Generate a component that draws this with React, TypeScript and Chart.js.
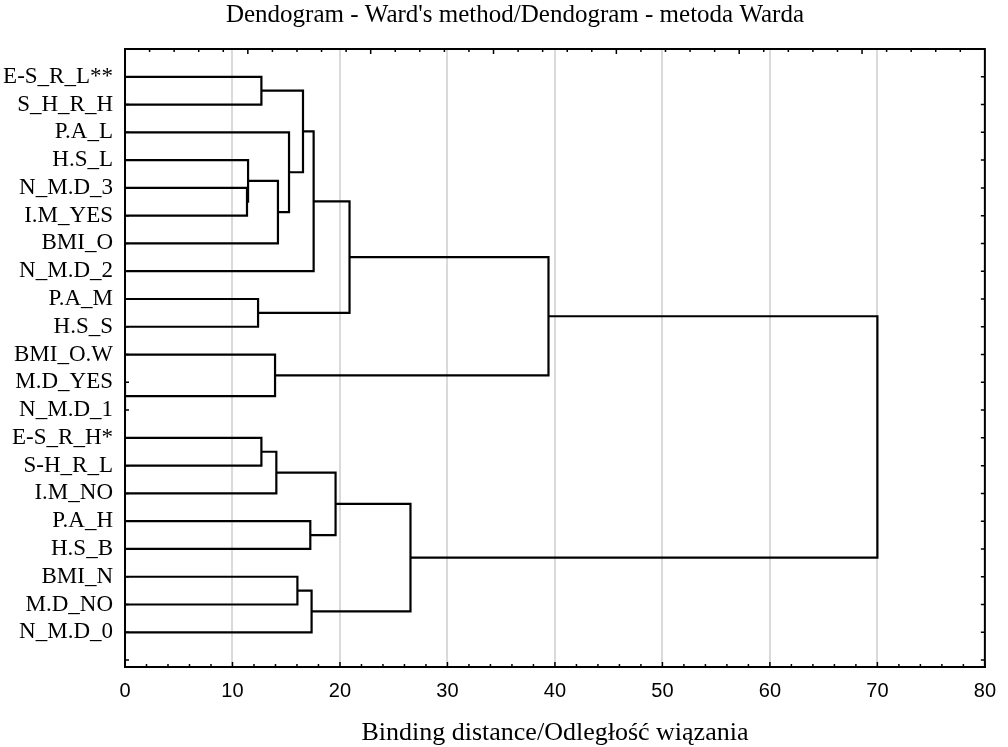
import { useEffect, useRef } from "react";
import { Chart, registerables } from "chart.js";

Chart.register(...registerables);

// Leaves of the dendrogram, top to bottom
const leafLabels = [
  "E-S_R_L**", "S_H_R_H", "P.A_L", "H.S_L", "N_M.D_3", "I.M_YES", "BMI_O",
  "N_M.D_2", "P.A_M", "H.S_S", "BMI_O.W", "M.D_YES", "N_M.D_1", "E-S_R_H*",
  "S-H_R_L", "I.M_NO", "P.A_H", "H.S_B", "BMI_N", "M.D_NO", "N_M.D_0",
];

// Merge k joins clusters mergeLeft[k] and mergeRight[k] at mergeDistance[k].
// Ids below leafLabels.length are leaves; id leafLabels.length + k is merge k.
const mergeLeft = [11, 4, 3, 8, 0, 13, 10, 23, 26, 18, 2, 25, 16, 30, 7, 29, 35, 36, 37, 39];
const mergeRight = [12, 5, 22, 9, 1, 14, 21, 6, 15, 19, 28, 31, 17, 20, 32, 33, 24, 34, 27, 38];
const mergeDistance = [
  0.0, 11.35, 11.45, 12.38, 12.69, 12.69, 13.96, 14.23, 14.08, 16.04,
  15.26, 16.56, 17.24, 17.36, 17.55, 19.59, 20.89, 26.56, 39.4, 70.0,
];

const xTickValues = [0, 10, 20, 30, 40, 50, 60, 70, 80];

const titleText = "Dendogram - Ward's method/Dendogram - metoda Warda";
const xTitleText = "Binding distance/Odległość wiązania";

const SERIF = "'Liberation Serif', 'Times New Roman', serif";
const SANS = "'Liberation Sans', Arial, sans-serif";

type Pt = { x: number; y: number };

function buildLinks(): Pt[][] {
  const n = leafLabels.length;
  const height: number[] = [];
  const pos: number[] = [];
  for (let i = 0; i < n; i++) {
    height[i] = 0;
    pos[i] = i + 1;
  }
  const links: Pt[][] = [];
  for (let k = 0; k < mergeDistance.length; k++) {
    const a = mergeLeft[k];
    const b = mergeRight[k];
    const d = mergeDistance[k];
    links.push([
      { x: height[a], y: pos[a] },
      { x: d, y: pos[a] },
      { x: d, y: pos[b] },
      { x: height[b], y: pos[b] },
    ]);
    height[n + k] = d;
    pos[n + k] = (pos[a] + pos[b]) / 2;
  }
  return links;
}

// Window title, centred over the graph window rather than the plot box
const windowTitle = {
  id: "windowTitle",
  afterDraw(chart: any) {
    const { ctx } = chart;
    ctx.save();
    ctx.fillStyle = "#000";
    ctx.font = `normal 25px ${SERIF}`;
    ctx.textAlign = "center";
    ctx.textBaseline = "middle";
    ctx.fillText(titleText, chart.width / 2 + 11, 15);
    ctx.restore();
  },
};

// Closed frame with small inward ticks on all four sides
const frameTicks = {
  id: "frameTicks",
  afterDatasetsDraw(chart: any) {
    const { ctx, chartArea, scales } = chart;
    const { left, right, top, bottom } = chartArea;
    const xs = scales.x;
    const ys = scales.y;
    ctx.save();
    ctx.strokeStyle = "#000";
    ctx.lineWidth = 2;
    ctx.beginPath();
    ctx.moveTo(left, top);
    ctx.lineTo(right, top);
    ctx.lineTo(right, bottom);
    ctx.stroke();

    ctx.lineWidth = 1.5;
    ctx.beginPath();
    // bottom: minor every 2 units, major every 10
    for (let v = 0; v <= 80; v += 2) {
      const px = xs.getPixelForValue(v);
      const len = v % 10 === 0 ? 5 : 3;
      ctx.moveTo(px, bottom);
      ctx.lineTo(px, bottom - len);
    }
    // top: 35 divisions, every fifth longer
    for (let i = 1; i < 35; i++) {
      const px = left + ((right - left) * i) / 35;
      const len = i % 5 === 0 ? 5 : 3;
      ctx.moveTo(px, top);
      ctx.lineTo(px, top + len);
    }
    // left / right: one tick per leaf slot
    for (let p = 1; p <= leafLabels.length + 1; p++) {
      const py = ys.getPixelForValue(p);
      ctx.moveTo(left, py);
      ctx.lineTo(left + 4, py);
      ctx.moveTo(right, py);
      ctx.lineTo(right - 4, py);
    }
    ctx.stroke();
    ctx.restore();
  },
};

export default function App() {
  const canvasRef = useRef<HTMLCanvasElement | null>(null);

  useEffect(() => {
    const canvas = canvasRef.current;
    if (!canvas) return;
    const links = buildLinks();
    const chart = new Chart(canvas, {
      type: "line",
      data: {
        datasets: links.map((pts) => ({
          data: pts,
          borderColor: "#000",
          borderWidth: 2.2,
          borderJoinStyle: "miter" as const,
          borderCapStyle: "butt" as const,
          pointRadius: 0,
          tension: 0,
          fill: false,
        })),
      },
      options: {
        responsive: false,
        animation: false,
        events: [],
        layout: { padding: { left: 0, right: 21, top: 49, bottom: 0 } },
        plugins: {
          legend: { display: false },
          tooltip: { enabled: false },
          title: { display: false },
        },
        scales: {
          x: {
            type: "linear",
            min: 0,
            max: 80,
            afterBuildTicks: (s: any) => {
              s.ticks = xTickValues.map((v) => ({ value: v }));
            },
            afterFit: (s: any) => {
              s.height = 80;
            },
            ticks: {
              color: "#000",
              font: { family: SANS, size: 20 },
              padding: 12,
              maxRotation: 0,
            },
            grid: {
              drawTicks: false,
              lineWidth: 2,
              color: (c: any) =>
                c.tick && (c.tick.value === 0 || c.tick.value === 80)
                  ? "rgba(0,0,0,0)"
                  : "#dadada",
            },
            border: { display: true, color: "#000", width: 2 },
            title: {
              display: true,
              text: xTitleText,
              color: "#000",
              font: { family: SERIF, size: 26, lineHeight: 1 },
              padding: { top: 0, bottom: 1 },
            },
          },
          y: {
            type: "linear",
            reverse: true,
            min: 0,
            max: 22.25,
            afterBuildTicks: (s: any) => {
              s.ticks = leafLabels.map((_, i) => ({ value: i + 1 }));
            },
            afterFit: (s: any) => {
              s.width = 125;
            },
            ticks: {
              autoSkip: false,
              color: "#000",
              font: { family: SERIF, size: 23 },
              padding: 12,
              callback: (v: any) => leafLabels[Number(v) - 1] ?? "",
            },
            grid: { display: false, drawTicks: false },
            border: { display: true, color: "#000", width: 2 },
          },
        },
      },
      plugins: [frameTicks, windowTitle],
    });
    return () => chart.destroy();
  }, []);

  return (
    <div style={{ position: "absolute", left: 0, top: 0, width: 1008, height: 747, background: "#fff" }}>
      <canvas ref={canvasRef} width={1008} height={747} style={{ display: "block" }} />
    </div>
  );
}
